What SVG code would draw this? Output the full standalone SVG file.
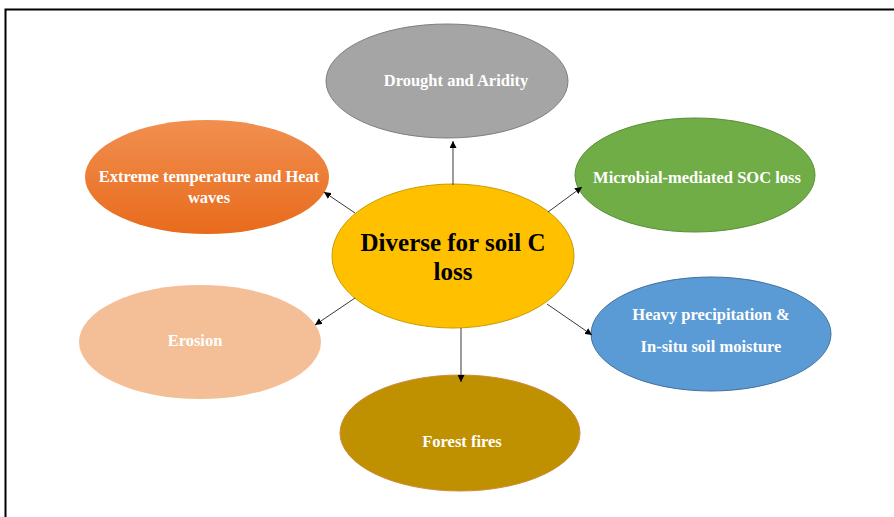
<svg xmlns="http://www.w3.org/2000/svg" width="894" height="517" viewBox="0 0 894 517">
<defs>
<linearGradient id="gOrange" x1="0" y1="0" x2="0" y2="1">
<stop offset="0" stop-color="#F18F50"/>
<stop offset="1" stop-color="#E86B1C"/>
</linearGradient>
<marker id="arr" viewBox="0 0 10 10" refX="10" refY="5" markerWidth="7" markerHeight="7" markerUnits="userSpaceOnUse" orient="auto">
<path d="M0,0 L10,5 L0,10 z" fill="#000"/>
</marker>
</defs>
<style>
.lbl{font-family:"Liberation Serif","Times New Roman",serif;font-weight:bold;font-size:16.5px;fill:#fff;text-anchor:middle}
.ctr{font-family:"Liberation Serif","Times New Roman",serif;font-weight:bold;font-size:25px;fill:#000;text-anchor:middle}
.con{stroke:#3a3a3a;stroke-width:1;fill:none;marker-end:url(#arr)}
</style>
<rect x="5.5" y="9.5" width="900" height="520" fill="#fff" stroke="#000" stroke-width="2"/>
<g id="drought">
<ellipse cx="447" cy="81" rx="121" ry="57" fill="#A5A5A5" stroke="#7f7f7f" stroke-width="1"/>
<text class="lbl" x="456" y="86">Drought and Aridity</text>
</g>
<g id="extreme">
<ellipse cx="207" cy="177" rx="122" ry="57" fill="url(#gOrange)"/>
<text class="lbl" x="209" y="182">Extreme temperature and Heat</text>
<text class="lbl" x="209" y="203">waves</text>
</g>
<g id="microbial">
<ellipse cx="695" cy="175" rx="120" ry="57" fill="#70AD47" stroke="#5a8f38" stroke-width="1"/>
<text class="lbl" x="697" y="183">Microbial-mediated SOC loss</text>
</g>
<g id="center">
<ellipse cx="453" cy="256" rx="121" ry="72" fill="#FFC000" stroke="#c99a00" stroke-width="1"/>
<text class="ctr" x="453" y="251">Diverse for soil C</text>
<text class="ctr" x="453" y="280">loss</text>
</g>
<g id="erosion">
<ellipse cx="200" cy="342" rx="121" ry="57" fill="#F4BF97"/>
<text class="lbl" x="195" y="346">Erosion</text>
</g>
<g id="heavy">
<ellipse cx="711" cy="334" rx="120" ry="57" fill="#5B9BD5" stroke="#41719C" stroke-width="1"/>
<text class="lbl" x="711" y="320">Heavy precipitation &amp;</text>
<text class="lbl" x="711" y="352">In-situ soil moisture</text>
</g>
<g id="forest">
<ellipse cx="460" cy="433" rx="120" ry="58" fill="#BF9000" stroke="#d08a40" stroke-width="1"/>
<text class="lbl" x="462" y="447">Forest fires</text>
</g>
<g id="connectors">
<line class="con" x1="453" y1="185" x2="453" y2="141"/>
<line class="con" x1="355" y1="213" x2="324" y2="192"/>
<line class="con" x1="548" y1="212" x2="582" y2="187"/>
<line class="con" x1="547" y1="304" x2="592" y2="335"/>
<line class="con" x1="355" y1="298" x2="315" y2="325"/>
<line class="con" x1="461" y1="328" x2="461" y2="382"/>
</g>
</svg>
